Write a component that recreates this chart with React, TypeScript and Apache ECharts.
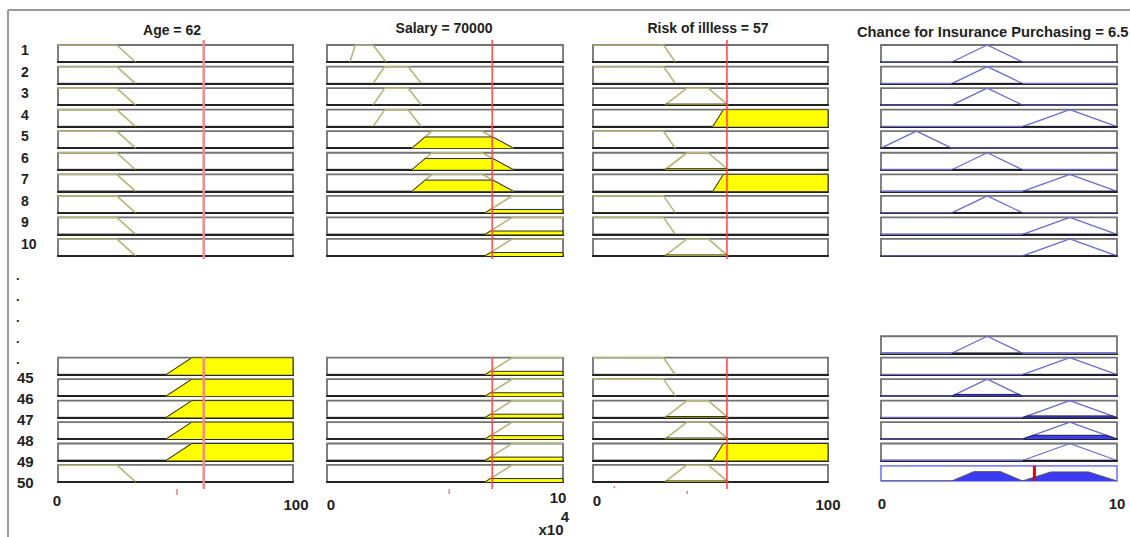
import React, { useEffect, useRef } from "react";
import * as echarts from "echarts";

// ---------- data ----------
const inputTitles = ["Age = 62", "Salary = 70000", "Risk of illless = 57"];
const outputTitle = "Chance for Insurance Purchasing = 6.5";

const inputValues = [62, 70000, 57];
const outputValue = 6.5;

const ageRange = [0, 100];
const salaryRange = [0, 100000];
const riskRange = [0, 100];
const outputRange = [0, 10];

// membership functions [a, b, c, d] (trapezoid / shoulders / triangles)
const ageMF: Record<string, number[]> = { young: [0, 0, 25, 33], old: [46, 57, 100, 100] };
const salaryMF: Record<string, number[]> = {
  veryLow: [9700, 12000, 19500, 25000],
  low: [19500, 24500, 34300, 40000],
  medium: [36000, 44500, 65700, 79000],
  high: [67000, 78500, 100000, 100000],
};
const riskMF: Record<string, number[]> = { low: [0, 0, 30, 35], medium: [30.6, 40, 49, 57.5], high: [51, 55.5, 100, 100] };
const outputMF: Record<string, number[]> = { low: [0, 1.5, 1.5, 3], medium: [3, 4.5, 4.5, 6], high: [6, 8, 8, 10] };

// upper block: rules 1..10
const upperLabels = ["1", "2", "3", "4", "5", "6", "7", "8", "9", "10"];
const upperAge = ["young", "young", "young", "young", "young", "young", "young", "young", "young", "young"];
const upperAgeDeg = [0, 0, 0, 0, 0, 0, 0, 0, 0, 0];
const upperSalary = ["veryLow", "low", "low", "low", "medium", "medium", "medium", "high", "high", "high"];
const upperSalaryDeg = [0, 0, 0, 0, 0.66, 0.66, 0.66, 0.2, 0.2, 0.2];
const upperRisk = ["low", "low", "medium", "high", "low", "medium", "high", "low", "low", "medium"];
const upperRiskDeg = [0, 0, 0.06, 1, 0, 0.06, 1, 0, 0, 0.06];
const upperOutput = ["medium", "medium", "medium", "high", "low", "medium", "high", "medium", "high", "high"];
const upperOutputDeg = [0, 0, 0, 0, 0, 0, 0, 0, 0, 0];

// lower block
const lowerDots = [".", ".", ".", ".", "."];
const lowerLabels = ["45", "46", "47", "48", "49", "50"];
const lowerAge = ["old", "old", "old", "old", "old", "young"];
const lowerAgeDeg = [1, 1, 1, 1, 1, 0];
const lowerSalary = ["high", "high", "high", "high", "high", "high"];
const lowerSalaryDeg = [0.2, 0.2, 0.2, 0.2, 0.2, 0.2];
const lowerRisk = ["low", "low", "medium", "medium", "high", "medium"];
const lowerRiskDeg = [0, 0, 0.06, 0.06, 1, 0.06];
const lowerOutput = ["medium", "high", "medium", "high", "high", "high"];
const lowerOutputDeg = [0, 0, 0.1, 0.1, 0.22, 0];

// aggregated output degrees per output term
const aggDegrees: Record<string, number> = { low: 0, medium: 0.62, high: 0.6 };
const aggOrder = ["low", "medium", "high"];

// ---------- layout ----------
const COLS = [
  { left: 58, width: 235 },
  { left: 327, width: 236 },
  { left: 593, width: 235 },
  { left: 881, width: 236 },
];
const UPPER_TOP = 45;
const UPPER_PITCH = 21.55;
const LOWER_TOP = 357.7;
const LOWER_PITCH = 21.45;
const BOX_H = 17;
const FONT = '"Liberation Sans", Arial, sans-serif';

function buildOption() {
  const grid: any[] = [];
  const xAxis: any[] = [];
  const yAxis: any[] = [];
  const series: any[] = [];

  const addGrid = (left: number, top: number, width: number, height: number, range: number[], box: "in" | "out" | "agg" | "none") => {
    const idx = grid.length;
    grid.push({
      left, top, width, height,
      show: box !== "none",
      borderColor: box === "agg" ? "#8484ff" : "#727272",
      borderWidth: 1.8,
      backgroundColor: box === "none" ? "transparent" : "#ffffff",
    });
    xAxis.push({
      type: "value", gridIndex: idx, min: range[0], max: range[1],
      axisLine: {
        show: box === "in" || box === "out",
        onZero: false,
        lineStyle: { color: "#222222", width: 2.2 },
      },
      axisTick: { show: false }, axisLabel: { show: false }, splitLine: { show: false },
    });
    yAxis.push({ type: "value", gridIndex: idx, min: 0, max: 1, show: false });
    return idx;
  };

  const lineSeries = (idx: number, data: number[][], color: string, width: number, z: number, area?: string) => ({
    type: "line", xAxisIndex: idx, yAxisIndex: idx, data, symbol: "none", silent: true, z,
    lineStyle: { color, width },
    areaStyle: area ? { color: area, opacity: 1 } : undefined,
  });

  const clipped = (p: number[], h: number) => [
    [p[0], 0],
    [p[0] + (p[1] - p[0]) * h, h],
    [p[3] - (p[3] - p[2]) * h, h],
    [p[3], 0],
  ];

  const addInputBox = (col: number, top: number, range: number[], p: number[], deg: number) => {
    const idx = addGrid(COLS[col].left, top, COLS[col].width, BOX_H, range, "in");
    const outline: number[][] = [];
    if (p[0] < p[1]) outline.push([p[0], 0]);
    outline.push([p[1], 1]);
    outline.push([p[2], 1]);
    if (p[2] < p[3]) outline.push([p[3], 0]);
    series.push(lineSeries(idx, outline, "#b7b677", 1.6, 2));
    series.push(lineSeries(idx, clipped(p, deg), "#2a2a2a", 1, 3, "#ffff00"));
  };

  const addOutputBox = (top: number, p: number[], deg: number) => {
    const idx = addGrid(COLS[3].left, top, COLS[3].width, BOX_H, outputRange, "out");
    const outline = [[outputRange[0], 0], [p[0], 0], [p[1], 1], [p[2], 1], [p[3], 0], [outputRange[1], 0]];
    series.push(lineSeries(idx, outline, "#6b6bd0", 1.3, 2));
    series.push(lineSeries(idx, clipped(p, deg), "#1c1c40", 1, 3, "#3c3cf2"));
  };

  const inputSets = [
    { range: ageRange, mf: ageMF, up: upperAge, upDeg: upperAgeDeg, lo: lowerAge, loDeg: lowerAgeDeg },
    { range: salaryRange, mf: salaryMF, up: upperSalary, upDeg: upperSalaryDeg, lo: lowerSalary, loDeg: lowerSalaryDeg },
    { range: riskRange, mf: riskMF, up: upperRisk, upDeg: upperRiskDeg, lo: lowerRisk, loDeg: lowerRiskDeg },
  ];

  inputSets.forEach((s, c) => {
    s.up.forEach((t, i) => addInputBox(c, UPPER_TOP + i * UPPER_PITCH, s.range, s.mf[t], s.upDeg[i]));
    s.lo.forEach((t, i) => addInputBox(c, LOWER_TOP + i * LOWER_PITCH, s.range, s.mf[t], s.loDeg[i]));
  });

  upperOutput.forEach((t, i) => addOutputBox(UPPER_TOP + i * UPPER_PITCH, outputMF[t], upperOutputDeg[i]));
  lowerOutput.forEach((t, i) => addOutputBox(LOWER_TOP + (i - 1) * LOWER_PITCH, outputMF[t], lowerOutputDeg[i]));

  // aggregate
  const aggTop = LOWER_TOP + (lowerOutput.length - 1) * LOWER_PITCH + 1;
  const aggIdx = addGrid(COLS[3].left, aggTop, COLS[3].width, BOX_H - 2, outputRange, "agg");
  const aggPts: number[][] = [[outputRange[0], 0]];
  aggOrder.forEach((t) => {
    if (aggDegrees[t] > 0) clipped(outputMF[t], aggDegrees[t]).forEach((pt) => aggPts.push(pt));
  });
  aggPts.push([outputRange[1], 0]);
  series.push(lineSeries(aggIdx, aggPts, "#555555", 1, 3, "#3b3bf3"));
  series.push(lineSeries(aggIdx, [[outputValue, 0], [outputValue, 1]], "#ee0000", 3, 10));

  // red input lines (overlay grids)
  const redStyles = [
    { color: "#f28a8a", width: 2.5 },
    { color: "#ff4a4a", width: 1.5 },
    { color: "#ff4040", width: 1.5 },
  ];
  const ranges = [ageRange, salaryRange, riskRange];
  [0, 1, 2].forEach((c) => {
    const v = inputValues[c];
    const a = addGrid(COLS[c].left, 40, COLS[c].width, 219, ranges[c], "none");
    series.push(lineSeries(a, [[v, 0], [v, 1]], redStyles[c].color, redStyles[c].width, 10));
    const b = addGrid(COLS[c].left, 357, COLS[c].width, 132, ranges[c], "none");
    series.push(lineSeries(b, [[v, 0], [v, 1]], redStyles[c].color, redStyles[c].width, 10));
  });

  // ---------- texts / decorations ----------
  const txt = (text: string, x: number, y: number, size: number, align = "center") => ({
    type: "text", x, y, silent: true, z: 20,
    style: { text, fill: "#1e1e1e", font: `bold ${size}px ${FONT}`, align, verticalAlign: "middle" },
  });

  const graphic: any[] = [
    { type: "line", silent: true, shape: { x1: 8, y1: 10, x2: 1130, y2: 10 }, style: { stroke: "#9a9a9a", lineWidth: 2 } },
    { type: "line", silent: true, shape: { x1: 8, y1: 10, x2: 8, y2: 537 }, style: { stroke: "#9a9a9a", lineWidth: 2 } },
    txt(inputTitles[0], 172, 30, 14),
    txt(inputTitles[1], 444, 28, 14),
    txt(inputTitles[2], 708, 28, 14),
    txt(outputTitle, 857, 32, 14.7, "left"),
    // axis range labels
    txt("0", 57, 500, 15),
    txt("100", 296, 504, 15),
    txt("0", 331, 504, 15),
    txt("10", 558, 497, 15),
    txt("4", 565, 516, 15),
    txt("x10", 551, 529, 15),
    txt("0", 597, 500, 15),
    txt("100", 828, 504, 15),
    txt("0", 882, 503, 15),
    txt("10", 1117, 503, 15),
    // stray red ticks
    { type: "rect", silent: true, shape: { x: 176, y: 489, width: 2, height: 6 }, style: { fill: "#f6a0a0" } },
    { type: "rect", silent: true, shape: { x: 448.5, y: 489, width: 1.5, height: 5 }, style: { fill: "#f08080" } },
    { type: "rect", silent: true, shape: { x: 613.5, y: 486, width: 1.5, height: 2 }, style: { fill: "#f08080" } },
    { type: "rect", silent: true, shape: { x: 686.5, y: 491, width: 1.5, height: 3 }, style: { fill: "#f08080" } },
  ];
  upperLabels.forEach((l, i) => graphic.push(txt(l, 21, UPPER_TOP + 5 + i * UPPER_PITCH, 14, "left")));
  lowerDots.forEach((l, i) => graphic.push(txt(l, 16, 275 + i * 21, 13, "left")));
  lowerLabels.forEach((l, i) => graphic.push(txt(l, 17, 377 + i * 21, 15, "left")));

  return { animation: false, backgroundColor: "#ffffff", grid, xAxis, yAxis, series, graphic };
}

export default function App() {
  const ref = useRef<HTMLDivElement>(null);
  useEffect(() => {
    if (!ref.current) return;
    const chart = echarts.init(ref.current, undefined, { renderer: "svg" });
    chart.setOption(buildOption() as any);
    return () => chart.dispose();
  }, []);
  return (
    <div style={{ position: "fixed", left: 0, top: 0, width: 1130, height: 537, background: "#fff" }}>
      <div ref={ref} style={{ width: 1130, height: 537 }} />
    </div>
  );
}
